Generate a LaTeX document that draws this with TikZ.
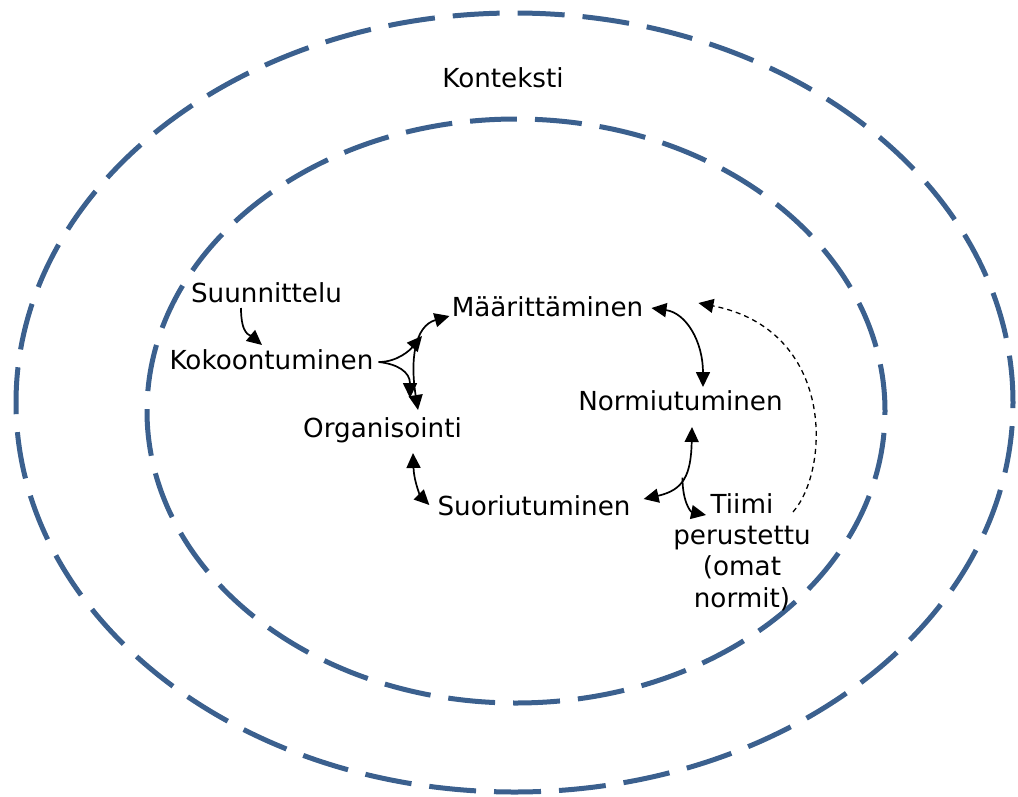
\documentclass[tikz,border=0pt]{standalone}
\usepackage{fontspec}
\setmainfont{DejaVu Sans}
\usetikzlibrary{arrows.meta,calc}
\definecolor{ringblue}{RGB}{59,96,142}
\begin{document}
\begin{tikzpicture}[x=1pt,y=-1pt,
  ring/.style={draw=ringblue, line width=5pt, dash pattern=on 47pt off 18pt},
  txt/.style={font=\fontsize{26.2}{31.3}\selectfont, inner sep=2pt, anchor=base},
  flow/.style={line width=1.7pt, -{Triangle[length=15pt,width=14pt]}},
  twoway/.style={line width=1.7pt, {Triangle[length=15pt,width=14pt]}-{Triangle[length=15pt,width=14pt]}},
  loopback/.style={line width=1.3pt, dash pattern=on 5pt off 4pt, -{Triangle[length=15pt,width=14pt]}}]
\useasboundingbox (0,0) rectangle (1018,796);

% context rings
\draw[ring] (514.5,402.5) ellipse [x radius=498.5pt, y radius=389.5pt];
\draw[ring] (516,411) ellipse [x radius=369pt, y radius=292pt];

% stages
\node[txt] (kon) at (503,87) {Konteksti};
\node[txt] (sun) at (266.5,302) {Suunnittelu};
\node[txt] (kok) at (271.5,369) {Kokoontuminen};
\node[txt] (mar) at (547.5,316) {Määrittäminen};
\node[txt] (nor) at (680.5,410) {Normiutuminen};
\node[txt] (org) at (382.5,437) {Organisointi};
\node[txt] (suo) at (534,515) {Suoriutuminen};
\node[txt, align=center] (tii) at (742,607) {Tiimi\\perustettu\\(omat\\normit)};

% planning leads to forming
\draw[flow] ($(sun.base)+(-25.5,6)$) .. controls +(0,27) and +(-12,-10) .. ($(kok.base)+(-9.5,-24)$);

% forming feeds the storming/organising loop
\coordinate (j1) at (422,336);
\draw[flow] ($(kok.base east)+(3,-7)$) .. controls +(19,0) and +(-12,14) .. (j1);
\draw[flow] ($(kok.base east)+(3,-7)$) .. controls +(19,2) and +(0,-26) .. ($(org.base)+(27.5,-39)$);

% main cycle
\draw[twoway] ($(mar.base west)+(0,0)$) .. controls +(-35,10) and +(-8,-50) .. ($(org.base)+(35.5,-27)$);
\draw[twoway] ($(mar.base east)+(6,-8)$) .. controls +(35,5) and +(0,-45) .. ($(nor.base)+(22.5,-23)$);
\draw[twoway] ($(nor.base)+(11.5,17)$) .. controls +(-1,48) and +(40,-9) .. coordinate[pos=0.5] (j2) ($(suo.base east)+(11,-16)$);
\draw[twoway] ($(org.base)+(30.5,16)$) .. controls +(1,30) and +(-8,-8) .. ($(suo.base west)+(-6,-10)$);

% branch to the established team and its loop back
\draw[flow] (j2) .. controls +(0,25) and +(-15,-3) .. ($(tii.base)+(-36,-92)$);
\draw[loopback] ($(tii.base)+(51,-95)$) .. controls +(37,-42) and +(137,27) .. ($(mar.base east)+(53,-13)$);
\end{tikzpicture}
\end{document}
